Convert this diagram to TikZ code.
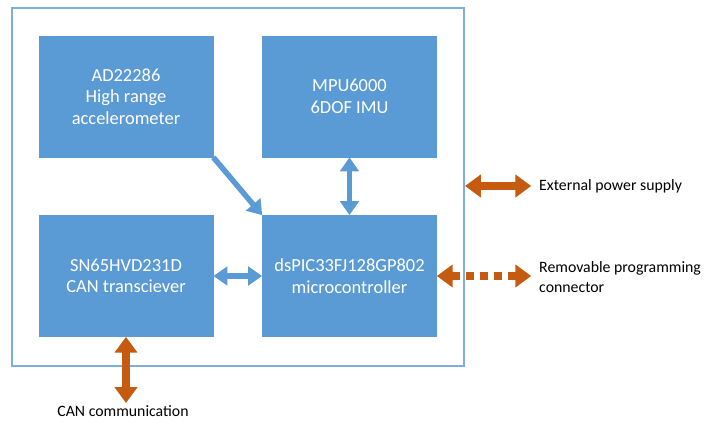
\documentclass[tikz,border=0pt]{standalone}
\usepackage{fontspec}
\setmainfont{Carlito}
\usetikzlibrary{arrows.meta}
\definecolor{boxblue}{HTML}{5B9BD5}
\definecolor{linkorange}{HTML}{C55A11}
\tikzset{
  block/.style={fill=boxblue, draw=boxblue, text=white, minimum width=3.48cm,
    minimum height=2.42cm, align=center, font=\fontsize{10.5}{12.3}\selectfont},
  bluelink/.style={boxblue, line width=3.1pt, -{Triangle[width=10.5pt,length=8pt]}},
  bluedouble/.style={boxblue, line width=3.1pt, {Triangle[width=10.5pt,length=8pt]}-{Triangle[width=10.5pt,length=8pt]}},
  orangedouble/.style={linkorange, line width=4.5pt, {Triangle[width=12.5pt,length=9pt]}-{Triangle[width=12.5pt,length=9pt]}},
  label/.style={font=\fontsize{9}{11}\selectfont, align=left}
}
\begin{document}
\begin{tikzpicture}[x=0.02cm,y=-0.02cm]
\useasboundingbox (0,0) rectangle (704,423);

% outer frame
\draw[boxblue!80, line width=0.6pt] (12,8) rectangle (464,366);

% blocks
\node[block] (adxl) at (126,96.5) {AD22286\\High range\\accelerometer};
\node[block] (mpu) at (349.5,96.5) {MPU6000\\6DOF IMU};
\node[block] (can) at (126,276) {SN65HVD231D\\CAN transciever};
\node[block] (pic) at (349.5,276) {dsPIC33FJ128GP802\\microcontroller};

% labels
\node[label, anchor=west] (powerlbl) at (533,186) {External power supply};
\node[label, anchor=west] (proglbl) at (533,277) {Removable programming\\connector};
\node[label, anchor=north, inner sep=1pt] (canlbl) at (123,403) {CAN communication};
\coordinate (powerin) at (465,186);

% inner links
\draw[bluelink] (adxl.south east) -- (pic.north west);
\draw[bluedouble] (mpu.south) -- (pic.north);
\draw[bluedouble] (can.east) -- (pic.west);

% outer links
\draw[orangedouble] (powerin) -- ([xshift=-1pt]powerlbl.west);
\draw[orangedouble, dash pattern=on 4.5pt off 3.5pt] (pic.east) -- ([xshift=-1pt]proglbl.west |- pic.east);
\draw[orangedouble] (can.south) -- (can.south |- canlbl.north);

\end{tikzpicture}
\end{document}
